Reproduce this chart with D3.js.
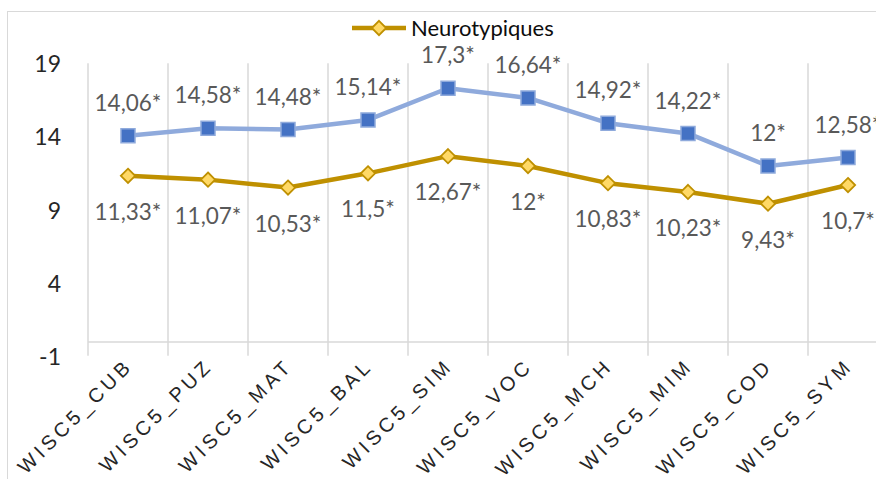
<!DOCTYPE html>
<html>
<head>
<meta charset="utf-8">
<script src="https://cdn.jsdelivr.net/npm/d3@7"></script>
<style>
  html, body { margin: 0; padding: 0; background: #fff; }
  svg { display: block; }
</style>
</head>
<body>
<svg id="chart" width="876" height="479"></svg>
<script>
// WISC-V subtest scores
const categories = ["WISC5_CUB", "WISC5_PUZ", "WISC5_MAT", "WISC5_BAL", "WISC5_SIM",
                    "WISC5_VOC", "WISC5_MCH", "WISC5_MIM", "WISC5_COD", "WISC5_SYM"];
const groupeScores = [14.06, 14.58, 14.48, 15.14, 17.3, 16.64, 14.92, 14.22, 12, 12.58];
const neurotypiquesScores = [11.33, 11.07, 10.53, 11.5, 12.67, 12, 10.83, 10.23, 9.43, 10.7];
const yTicks = [-1, 4, 9, 14, 19];
const legendLabel = "Neurotypiques";

const svg = d3.select("#chart");

const x = d3.scaleBand().domain(categories).range([88, 888]);
const y = d3.scaleLinear().domain([-1, 19]).range([356.7, 63.3]);

const fmt = v => String(v).replace(".", ",") + "*";

// outer chart frame
svg.append("rect")
  .attr("x", 7.5).attr("y", 11.5)
  .attr("width", 1000).attr("height", 1000)
  .attr("fill", "none").attr("stroke", "#d9d9d9").attr("stroke-width", 1);

// vertical category gridlines at band boundaries
const bounds = categories.map(c => x(c)).concat([x.range()[1]]);
svg.append("g").selectAll("line").data(bounds).join("line")
  .attr("x1", d => d).attr("x2", d => d)
  .attr("y1", y(19)).attr("y2", y(-1) - 1)
  .attr("stroke", "#d9d9d9").attr("stroke-width", 1.5);

// category axis line at zero
svg.append("line")
  .attr("x1", x.range()[0]).attr("x2", x.range()[1])
  .attr("y1", y(0)).attr("y2", y(0))
  .attr("stroke", "#d9d9d9").attr("stroke-width", 1.5);

// value axis labels
const yAxis = svg.append("g")
  .attr("transform", "translate(61,0)")
  .call(d3.axisLeft(y).tickValues(yTicks).tickSize(0).tickPadding(0).tickFormat(d => String(d)));
yAxis.select(".domain").remove();
yAxis.selectAll("text")
  .attr("font-family", "Lato, 'Open Sans', sans-serif")
  .attr("font-size", 23)
  .attr("fill", "#262626")
  .attr("dy", "0.36em");

// category labels, rotated
svg.append("g").selectAll("text").data(categories).join("text")
  .attr("transform", d => `translate(${x(d) + x.bandwidth() / 2 + 6},${367}) rotate(-45)`)
  .attr("text-anchor", "end")
  .attr("font-family", "'Liberation Sans', Arial, sans-serif")
  .attr("font-size", 20)
  .attr("letter-spacing", 4)
  .attr("fill", "#262626")
  .text(d => d);

const cx = (d, i) => x(categories[i]) + x.bandwidth() / 2;

function drawSeries(values, lineColor, markerFill, markerStroke, shape, labelDy) {
  const g = svg.append("g");
  const line = d3.line()
    .x((d, i) => cx(d, i))
    .y(d => y(d));
  g.append("path")
    .datum(values)
    .attr("d", line)
    .attr("fill", "none")
    .attr("stroke", lineColor)
    .attr("stroke-width", 4.5)
    .attr("stroke-linejoin", "round")
    .attr("stroke-linecap", "round");

  const sym = d3.symbol().type(shape === "square" ? d3.symbolSquare : d3.symbolDiamond2)
    .size(shape === "square" ? 196 : 130);
  g.selectAll("path.mk").data(values).join("path")
    .attr("class", "mk")
    .attr("d", sym)
    .attr("transform", (d, i) => `translate(${cx(d, i)},${y(d)})`)
    .attr("fill", markerFill)
    .attr("stroke", markerStroke)
    .attr("stroke-width", shape === "square" ? 1.5 : 1.8);

  g.selectAll("text").data(values).join("text")
    .attr("x", (d, i) => cx(d, i))
    .attr("y", d => y(d) + labelDy)
    .attr("dy", "0.36em")
    .attr("text-anchor", "middle")
    .attr("font-family", "Lato, 'Open Sans', sans-serif")
    .attr("font-size", 22.5)
    .attr("fill", "#595959")
    .text(d => fmt(d));
}

drawSeries(groupeScores, "#8FAADC", "#4472C4", "#8FAADC", "square", -33);
drawSeries(neurotypiquesScores, "#BF9000", "#FFD966", "#BF9000", "diamond", 36);

// legend
const lg = svg.append("g");
lg.append("line")
  .attr("x1", 352).attr("x2", 406).attr("y1", 28).attr("y2", 28)
  .attr("stroke", "#BF9000").attr("stroke-width", 4.5);
lg.append("path")
  .attr("d", d3.symbol().type(d3.symbolDiamond2).size(130)())
  .attr("transform", "translate(379,28)")
  .attr("fill", "#FFD966").attr("stroke", "#BF9000").attr("stroke-width", 1.8);
lg.append("text")
  .attr("x", 411).attr("y", 28).attr("dy", "0.36em")
  .attr("font-family", "Lato, 'Open Sans', sans-serif")
  .attr("font-size", 22)
  .attr("fill", "#0d0d0d")
  .text(legendLabel);
</script>
</body>
</html>
